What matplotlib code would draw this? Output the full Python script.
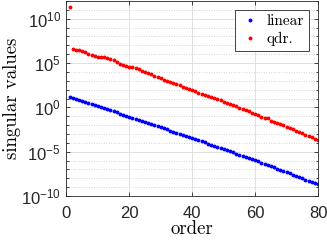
import numpy as np
import matplotlib
matplotlib.use('Agg')
import matplotlib.pyplot as plt
from matplotlib.ticker import LogLocator, NullFormatter

plt.rcParams['font.family'] = ['Liberation Sans', 'DejaVu Sans']
plt.rcParams['mathtext.fontset'] = 'custom'
plt.rcParams['mathtext.rm'] = 'Liberation Sans'
plt.rcParams['mathtext.it'] = 'Liberation Sans:italic'

# log10 of the singular values
order = list(range(1, 81))
linear_log = [1.20, 1.08, 0.96, 0.85, 0.73, 0.61, 0.49, 0.37, 0.26, 0.14,
              0.02, -0.10, -0.22, -0.33, -0.45, -0.57, -0.69, -0.81, -0.93, -1.05,
              -1.17, -1.29, -1.41, -1.53, -1.65, -1.77, -1.89, -2.01, -2.13, -2.25,
              -2.37, -2.49, -2.61, -2.73, -2.85, -2.97, -3.09, -3.21, -3.33, -3.45,
              -3.58, -3.70, -3.83, -3.95, -4.08, -4.20, -4.33, -4.45, -4.58, -4.70,
              -4.83, -4.95, -5.08, -5.20, -5.33, -5.45, -5.58, -5.70, -5.83, -5.96,
              -6.09, -6.22, -6.36, -6.50, -6.63, -6.77, -6.91, -7.04, -7.18, -7.32,
              -7.45, -7.59, -7.73, -7.86, -8.00, -8.14, -8.27, -8.41, -8.55, -8.69]
qdr_log = [11.30, 6.62, 6.51, 6.43, 6.36, 6.21, 6.06, 5.95, 5.83, 5.72,
           5.68, 5.64, 5.57, 5.49, 5.38, 5.12, 4.89, 4.78, 4.67, 4.59,
           4.50, 4.42, 4.30, 4.15, 4.00, 3.85, 3.72, 3.57, 3.42, 3.28,
           3.14, 3.00, 2.86, 2.74, 2.62, 2.48, 2.34, 2.20, 2.06, 1.93,
           1.80, 1.66, 1.53, 1.40, 1.27, 1.14, 1.01, 0.90, 0.78, 0.64,
           0.52, 0.40, 0.26, 0.11, -0.02, -0.17, -0.32, -0.46, -0.62, -0.76,
           -0.90, -1.03, -1.15, -1.25, -1.52, -1.62, -1.74, -1.87, -2.02, -2.18,
           -2.33, -2.47, -2.62, -2.76, -2.91, -3.06, -3.20, -3.35, -3.52, -3.68]

fig = plt.figure(figsize=(3.27, 2.40), dpi=100)
ax = fig.add_axes([0.203, 0.183, 0.7695, 0.813])

ax.semilogy(order, 10.0 ** np.array(linear_log), 'o', color='blue',
            ms=2.8, mec='none', label='linear')
ax.semilogy(order, 10.0 ** np.array(qdr_log), 'o', color='red',
            ms=2.8, mec='none', label='qdr.')

ax.set_xlim(0, 80)
ax.set_ylim(1e-10, 1e12)
ax.set_xticks([0, 20, 40, 60, 80])
ax.set_yticks([1e-10, 1e-5, 1e0, 1e5, 1e10])
ax.yaxis.set_minor_locator(LogLocator(base=10, subs=(1.0,), numticks=40))
ax.yaxis.set_minor_formatter(NullFormatter())

ax.grid(True, which='major', color='#dcdcdc', lw=0.6)
ax.grid(True, which='minor', axis='y', color='#c8c8c8', lw=0.6, ls=(0, (1, 2)))
ax.set_axisbelow(True)

for s in ax.spines.values():
    s.set_color('#262626')
    s.set_linewidth(0.6)
ax.tick_params(which='both', direction='in', top=True, right=True,
               colors='#262626', labelsize=12, width=0.6)
ax.tick_params(which='major', length=3)
ax.tick_params(which='minor', length=1.8)
ax.tick_params(axis='x', which='major', pad=7.5)
ax.tick_params(axis='y', which='major', pad=4)

ax.set_xlabel('order', family='cmr10', fontsize=13.5, labelpad=-1)
ax.set_ylabel('singular values', family='cmr10', fontsize=13.5, labelpad=0)

leg = ax.legend(loc='upper right', prop={'family': 'cmr10', 'size': 11},
                fancybox=False, framealpha=1, edgecolor='#262626',
                handletextpad=0.4, borderaxespad=0.6, markerscale=1.0,
                handlelength=1.4, borderpad=0.3, labelspacing=0.25)
leg.get_frame().set_linewidth(0.6)

fig.savefig('out.png', dpi=100)
